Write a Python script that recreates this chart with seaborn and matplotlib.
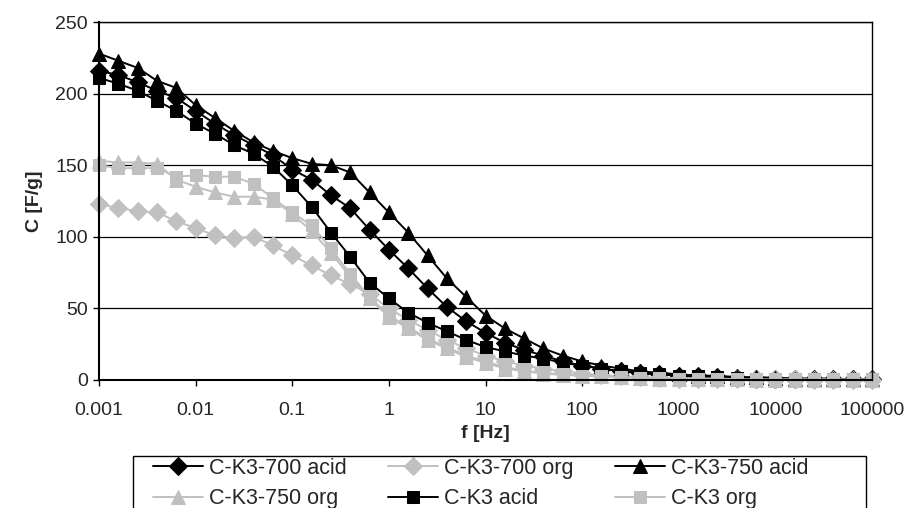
import numpy as np
import pandas as pd
import matplotlib
matplotlib.use("Agg")
import matplotlib.pyplot as plt
import seaborn as sns
from matplotlib.ticker import FixedLocator, FuncFormatter, NullLocator

sns.set_style("white")
plt.rcParams['font.family'] = ['Liberation Sans', 'DejaVu Sans']

# frequency points, 5 per decade from 1 mHz to 100 kHz
freq = [1e-3, 1.585e-3, 2.512e-3, 3.981e-3, 6.310e-3,
        1e-2, 1.585e-2, 2.512e-2, 3.981e-2, 6.310e-2,
        1e-1, 1.585e-1, 2.512e-1, 3.981e-1, 6.310e-1,
        1e0, 1.585e0, 2.512e0, 3.981e0, 6.310e0,
        1e1, 1.585e1, 2.512e1, 3.981e1, 6.310e1,
        1e2, 1.585e2, 2.512e2, 3.981e2, 6.310e2,
        1e3, 1.585e3, 2.512e3, 3.981e3, 6.310e3,
        1e4, 1.585e4, 2.512e4, 3.981e4, 6.310e4,
        1e5]

c_700_acid = [216, 213, 208, 202, 197, 188, 179, 171, 164, 157,
              147, 140, 129, 120, 105, 91, 78, 64, 51, 41,
              33, 26, 21, 17, 13, 10, 8, 6, 5, 4,
              3, 2.5, 2, 1.5, 1, 1, 1, 0.5, 0.5, 0.5, 0.5]
c_700_org = [123, 120, 118, 117, 111, 106, 101, 99, 100, 94,
             87, 80, 73, 67, 60, 50, 42, 35, 28, 22,
             17, 13, 10, 8, 6, 4.5, 3.5, 2.5, 2, 1.5,
             1, 1, 0.5, 0.5, 0.5, 0.5, 0.5, 0.3, 0.3, 0.3, 0.3]
c_750_acid = [228, 223, 218, 209, 204, 192, 183, 174, 166, 160,
              155, 151, 150, 145, 131, 117, 103, 87, 71, 58,
              45, 36, 29, 22, 17, 13, 10, 8, 6, 5,
              4, 3, 3, 2, 2, 1.5, 1, 1, 1, 0.5, 0.5]
c_750_org = [153, 152, 152, 151, 140, 135, 131, 128, 128, 126,
             116, 104, 89, 72, 57, 44, 36, 28, 22, 16,
             12, 8, 6, 4.5, 3.5, 3, 2.5, 2, 1.5, 1,
             1, 0.5, 0.5, 0.5, 0.3, 0.3, 0.3, 0.3, 0.3, 0.3, 0.3]
c_k3_acid = [211, 207, 202, 195, 188, 179, 172, 164, 158, 149,
             136, 121, 103, 86, 68, 57, 47, 40, 34, 28,
             23, 20, 17, 15, 12, 10, 8, 6, 5, 4,
             3, 2.5, 2, 1.5, 1, 1, 0.5, 0.5, 0.5, 0.5, 0.5]
c_k3_org = [150, 148, 148, 148, 142, 143, 142, 142, 137, 127,
            117, 108, 92, 74, 58, 45, 37, 29, 23, 17,
            13, 9, 6.5, 5, 4, 3, 2.5, 2, 1.5, 1.5,
            1, 1, 1, 0.5, 0.5, 0.5, 0.5, 0.5, 0.5, 0.5, 0.5]

series = [
    ("C-K3-700 acid", c_700_acid, "black", "D", 9),
    ("C-K3-700 org", c_700_org, "#c0c0c0", "D", 9),
    ("C-K3-750 acid", c_750_acid, "black", "^", 10.5),
    ("C-K3-750 org", c_750_org, "#c0c0c0", "^", 10.5),
    ("C-K3 acid", c_k3_acid, "black", "s", 9),
    ("C-K3 org", c_k3_org, "#c0c0c0", "s", 9),
]

fig = plt.figure(figsize=(9.12, 5.08), dpi=100)
ax = fig.add_axes([0.1086, 0.252, 0.8475, 0.7045])

for name, vals, col, mk, ms in series:
    sns.lineplot(x=freq, y=vals, ax=ax, color=col, marker=mk, markersize=ms,
                 markeredgecolor=col, linewidth=1.4, label=name, clip_on=False)

ax.set_xscale("log")
ax.set_xlim(1e-3, 1e5)
ax.set_ylim(0, 250)
ax.xaxis.set_major_locator(FixedLocator([10.0 ** e for e in range(-3, 6)]))
ax.xaxis.set_minor_locator(NullLocator())
ax.xaxis.set_major_formatter(FuncFormatter(lambda v, p: "{:g}".format(v) if v < 1e5 else "100000"))
ax.set_yticks([0, 50, 100, 150, 200, 250])
ax.yaxis.grid(True, color="black", linewidth=0.9)
ax.xaxis.grid(False)
ax.set_axisbelow(True)
for s in ax.spines.values():
    s.set_color("black")
    s.set_linewidth(1.0)
ax.spines["left"].set_linewidth(1.5)
ax.spines["bottom"].set_linewidth(1.5)
ax.tick_params(axis="both", direction="out", length=4, width=1, color="black",
               labelsize=14, bottom=True, left=True)
ax.tick_params(axis="x", pad=12)
ax.tick_params(axis="y", pad=4)

ax.set_xlabel("f [Hz]", fontsize=14, fontweight="bold", labelpad=4)
ax.set_ylabel("C [F/g]", fontsize=14, fontweight="bold", labelpad=9)

# legend: reorder so entries run across rows like the original
handles, labels = ax.get_legend_handles_labels()
order = [0, 3, 1, 4, 2, 5]
leg = ax.legend([handles[i] for i in order], [labels[i] for i in order],
                ncol=3, loc="upper left", bbox_to_anchor=(153 / 912, 1 - 458 / 508),
                bbox_transform=fig.transFigure, frameon=False, fontsize=15.5,
                handlelength=2.3, handletextpad=0.28, columnspacing=1.95,
                borderpad=0, borderaxespad=0, labelspacing=0.42)
box = plt.Rectangle((133 / 912, -0.05), (866 - 133) / 912, 0.05 + 1 - 456 / 508,
                    transform=fig.transFigure, fill=False, edgecolor="black", linewidth=1.0)
fig.patches.append(box)

fig.savefig("out.png", dpi=100)
